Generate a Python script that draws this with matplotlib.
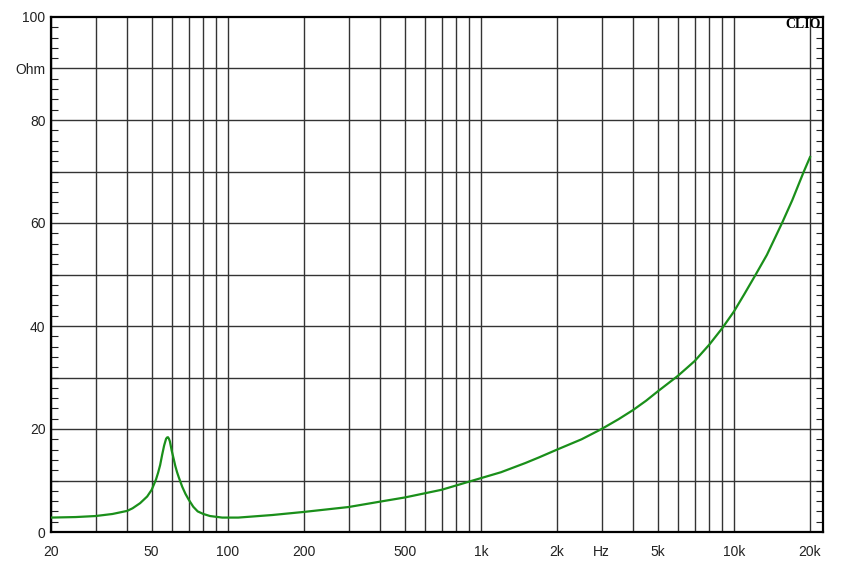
import numpy as np
import matplotlib.pyplot as plt
from matplotlib.ticker import FixedLocator, MultipleLocator, NullFormatter

plt.rcParams['font.family'] = ['Liberation Sans', 'DejaVu Sans']

# impedance curve
freq = [20, 25, 30, 35, 40, 42, 45, 48, 50, 52, 53, 54, 55, 56, 57, 57.5,
        58, 58.5, 59, 60, 61, 62, 63, 64, 66, 68, 70, 73, 76, 80, 85, 95,
        110, 150, 200, 300, 400, 500, 700, 930, 1200, 1500, 1700, 2000,
        2500, 3000, 3500, 4000, 4500, 5000, 6000, 6500, 7000, 8000, 9000,
        10000, 11000, 12200, 13500, 15500, 17000, 18900, 20000]
imp = [2.8, 2.9, 3.1, 3.5, 4.1, 4.6, 5.6, 6.9, 8.2, 10.2, 11.5, 13.0,
       15.0, 16.8, 18.1, 18.35, 18.4, 18.1, 17.6, 15.8, 14.3, 12.8, 11.6,
       10.6, 8.8, 7.4, 6.3, 4.9, 4.0, 3.5, 3.1, 2.8, 2.8, 3.3, 3.9, 4.85,
       5.9, 6.7, 8.2, 10.0, 11.6, 13.4, 14.5, 16.0, 18.0, 20.0, 21.9,
       23.7, 25.5, 27.3, 30.3, 31.8, 33.2, 36.4, 39.6, 42.8, 46.2, 50.0,
       53.8, 60.0, 64.4, 70.0, 72.8]

xticks = [20, 50, 100, 200, 500, 1000, 2000, 3000, 5000, 10000, 20000]
xlabels = ['20', '50', '100', '200', '500', '1k', '2k', 'Hz', '5k', '10k', '20k']
yticks = [0, 20, 40, 60, 80, 90, 100]
ylabels = ['0', '20', '40', '60', '80', 'Ohm', '100']

xgrid = [20, 30, 40, 50, 60, 70, 80, 90, 100, 200, 300, 400, 500, 600, 700,
         800, 900, 1000, 2000, 3000, 4000, 5000, 6000, 7000, 8000, 9000,
         10000, 20000]

fig = plt.figure(figsize=(8.49, 5.71), dpi=100)
ax = fig.add_axes([51/849, 1-532/571, 772/849, 515/571])

ax.set_xscale('log')
ax.set_xlim(20, 22500)
ax.set_ylim(0, 100)

for f in xgrid:
    ax.axvline(f, color='#333333', lw=1.0, zorder=1)
for v in range(10, 100, 10):
    ax.axhline(v, color='#333333', lw=1.0, zorder=1)

ax.plot(freq, imp, '-', color='#1a8f1a', lw=1.6, zorder=3)

ax.xaxis.set_major_locator(FixedLocator(xticks))
ax.set_xticklabels(xlabels)
ax.xaxis.set_minor_formatter(NullFormatter())
ax.tick_params(axis='x', which='both', length=0, pad=9, labelsize=10,
               colors='#222222')

ax.set_yticks(yticks)
ax.set_yticklabels(ylabels)
ax.yaxis.set_minor_locator(MultipleLocator(2))
ax.tick_params(axis='y', which='major', length=0, pad=4, labelsize=10,
               colors='#222222')
ax.tick_params(axis='y', which='minor', direction='in', length=5,
               width=0.8, left=True, right=True, color='#222222')

for s in ax.spines.values():
    s.set_linewidth(1.6)
    s.set_color('black')

fig.text(821/849, 1-24/571, 'CLIO', ha='right', va='center',
         fontsize=10, fontweight='bold', family=['Liberation Serif', 'DejaVu Serif'])

fig.savefig("out.png", dpi=100)
